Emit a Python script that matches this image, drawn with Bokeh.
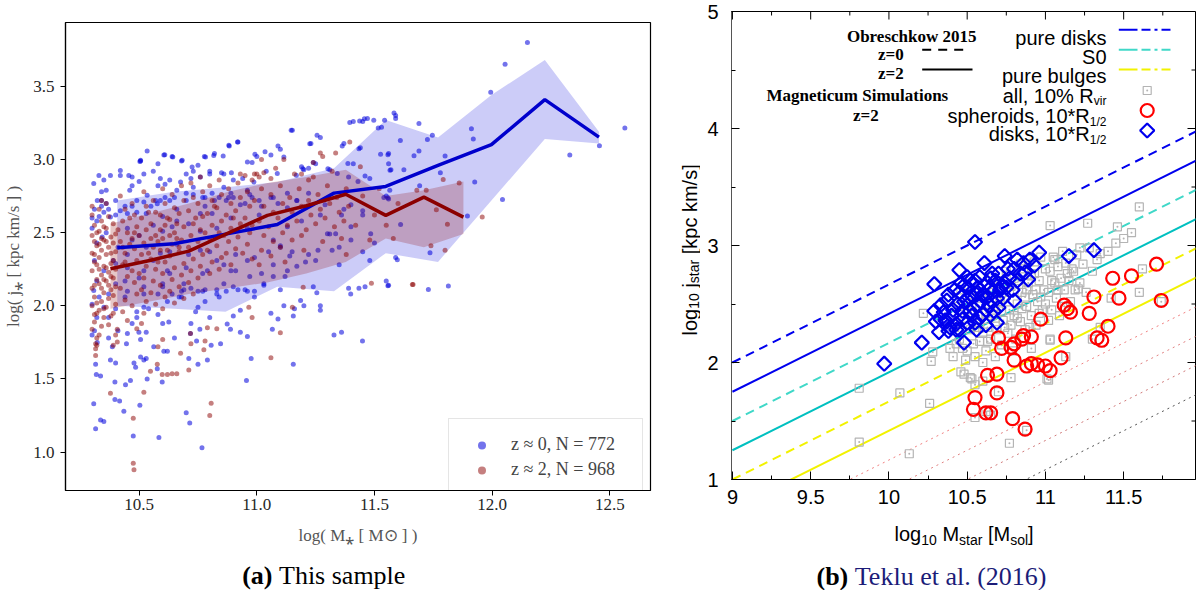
import numpy as np
from bokeh.plotting import figure
from bokeh.models import (Range1d, FixedTicker, Label, Legend, LegendItem, Spacer,
                          CustomJSTickFormatter, PrintfTickFormatter)
from bokeh.layouts import row, column
from bokeh.embed import file_html
from bokeh.resources import INLINE

# ======================= panel (a) data =======================
z0_pts = [
 (10.30,1.80),(10.315,1.60),(10.307,1.33),(10.315,1.16),(10.318,1.53),(10.336,1.52),(10.336,1.22),(10.35,1.21),
 (10.322,1.75),(10.386,1.72),(10.378,1.63),(10.40,1.61),(10.397,1.48),(10.397,1.36),(10.417,1.35),(10.442,1.46),
 (10.435,1.28),(10.463,1.49),(10.475,1.11),(10.478,1.61),(10.485,1.58),(10.503,1.32),(10.52,1.63),(10.53,1.64),
 (10.534,1.50),(10.584,1.10),(10.562,1.72),(10.577,1.57),(10.598,1.48),(10.605,1.69),(10.62,1.69),(10.446,1.74),
 (10.506,1.77),(10.506,1.65),(10.499,1.82),(10.53,1.82),(10.626,1.89),(10.70,1.27),(10.715,1.20),(10.711,1.64),
 (10.718,1.81),(10.744,1.76),(10.758,1.84),(10.767,1.03),(10.75,1.60),(10.79,1.63),(10.806,1.73),(10.846,1.74),
 (10.888,1.84),(10.93,1.82),(10.956,1.49),(10.96,1.79),(10.976,1.64),(11.066,1.84),(11.115,2.00),(11.155,1.60),
 (11.155,1.93),(11.20,2.00),(11.328,1.80),(11.36,1.82),(11.449,1.76),(11.399,2.08),(11.434,2.12),(11.56,2.14),
 (11.27,1.97),(11.255,2.09),
 (12.15,3.80),(12.055,3.65),(11.994,3.46),(11.912,3.21),(11.92,3.14),(11.61,3.13),(11.689,3.245),(11.746,3.165),
 (11.725,3.136),(11.689,3.058),(11.668,3.026),(11.80,3.024),(11.78,2.91),(11.625,2.93),(11.926,2.846),(11.692,2.82),
 (12.044,2.727),(11.895,2.613),(11.736,2.363),(11.729,2.112),(11.814,2.135),(12.33,3.03),(12.456,3.094),(12.564,3.215),
 (11.597,2.315),(11.611,2.556),(11.543,3.268),(11.583,3.318),(11.59,3.28),(11.557,3.033),(11.566,2.926),(11.565,2.79),
 (11.54,2.74),(11.557,2.739),(11.557,2.137),
 (10.534,3.058),(10.503,2.987),(10.609,3.033),(10.643,3.017),(10.683,2.994),(10.725,2.948),(10.777,3.02),(10.817,3.028),
 (10.857,3.024),(10.883,3.092),(10.918,3.119),(10.96,2.983),(10.992,3.036),(11.035,3.052),(11.09,3.092),(11.115,3.017),
 (11.146,3.20),(11.225,3.108),(11.256,3.165),(11.363,3.092),(11.395,3.252),(11.437,3.263),(11.457,3.279),(11.497,3.268),
 (11.516,3.215),(11.434,3.074),(11.526,3.036),(11.56,2.97),(11.46,2.887),(11.43,2.85),(11.387,2.972),(11.41,2.97),
 (11.342,2.904),(11.302,2.937),(11.25,2.97),(11.196,2.937),(11.20,2.93),(11.168,2.892),(11.087,2.904),(11.04,2.92),
 (10.988,2.846),(10.94,2.87),(10.90,2.86),(10.892,2.91),(10.85,2.91),(10.80,2.92),(10.75,2.96),(10.70,2.90),
 (10.72,2.87),(10.676,2.846),(10.63,2.86),(10.61,2.83),(10.58,2.82),(10.59,2.87),(10.56,2.92),(10.50,2.85),
 (10.47,2.82),(10.46,2.79),(10.534,2.755),(10.57,2.72),(10.65,2.74),(10.70,2.72),(10.73,2.76),(10.78,2.74),
 (10.82,2.72),(10.88,2.74),(10.93,2.69),(10.97,2.76),(11.01,2.72),(11.07,2.74),(11.13,2.67),(11.17,2.72),
 (11.22,2.77),(11.29,2.69),(11.36,2.62),(11.40,2.69),(11.45,2.62),(11.484,2.493),(11.50,2.43),(11.335,2.493),
 (11.35,2.40),(11.40,2.54),(11.31,2.49),(11.26,2.38),(11.207,2.30),(11.17,2.27),(11.14,2.34),(11.10,2.40),
 (11.13,2.24),(11.07,2.20),(11.03,2.14),(10.99,2.10),(10.96,2.10),(10.92,2.11),(10.87,2.10),(10.83,2.11),
 (10.77,2.10),(10.72,2.12),(10.68,2.10),(10.64,2.08),
 (10.307,2.835),(10.329,2.89),(10.35,2.86),(10.378,2.89),(10.42,2.925),(10.42,2.89),(10.456,2.89),(10.47,2.88),
 (10.506,2.994),(10.52,2.90),(10.34,2.78),(10.322,2.72),(10.34,2.72),(10.36,2.70),(10.31,2.66),(10.35,2.64),
 (10.378,2.607),(10.30,2.60),(10.32,2.58),(10.30,2.53),(10.343,2.47),(10.32,2.43),(10.37,2.66),(10.40,2.62),
 (10.42,2.65),(10.45,2.63),(10.47,2.68),(10.49,2.64),(10.52,2.71),(10.55,2.68),(10.577,2.698),(10.61,2.74),
 (10.63,2.72),(10.66,2.79),(10.70,2.77),(10.73,2.81),(10.77,2.74),(10.81,2.77),(10.86,2.81),(10.90,2.74),
 (10.96,2.79),(10.45,2.53),(10.50,2.48),(10.56,2.55),(10.60,2.51),(10.66,2.58),(10.76,2.51),(10.83,2.53),
 (10.89,2.60),(10.96,2.53),(11.01,2.62),(10.307,2.105),(10.33,2.06),(10.30,2.01),(10.35,1.99),(10.32,1.92),
 (10.37,1.92),(10.31,1.83),(10.37,1.78),(10.41,1.83),(10.45,1.81),(10.47,1.88),(10.52,1.99),(10.49,1.92),
 (10.58,1.94),(10.60,1.88),(10.65,1.78),(10.72,1.88),(10.75,1.99),(10.80,1.92),(10.874,1.876),(10.93,1.97),
 (10.99,2.06),(10.40,2.15),(10.45,2.10),(10.52,2.08),(10.60,2.13),(10.67,2.06),(10.75,2.10),(10.83,2.08),
 (10.90,2.13),(10.31,2.31),(10.35,2.24),(10.32,2.17),(10.39,2.31),(10.45,2.26),(10.50,2.19),(10.56,2.31),
 (10.63,2.22),(10.70,2.26),(10.79,2.24),(10.86,2.28),(10.96,2.31),(10.71,2.35),(10.80,2.37),(10.91,2.35),
 (10.63,2.37),(10.45,2.35),
 (10.605,3.03),(10.64,3.02),(10.68,2.99),(10.506,2.99),(10.58,2.97),(10.73,2.92),(10.76,2.88),(10.80,2.90),
 (10.86,2.90),(10.881,3.097),(10.92,3.12),(10.782,3.017),(10.82,3.04),(10.98,2.98),(11.00,3.02),(11.06,3.03),
 (11.10,3.07),(11.151,3.20),(11.23,3.11),(11.27,3.15),(11.37,3.11),(11.41,3.26),(11.45,3.26),(11.47,3.28),
 (11.53,3.22),(11.59,3.30),(11.24,2.98),(11.19,2.95),(11.22,2.94),(11.31,2.93),(11.39,2.88),(11.44,3.08),
 (11.48,2.87),(11.56,3.04),(11.57,2.93),(11.55,2.75),(11.56,2.73),(11.37,2.66),(11.45,2.65),(11.27,2.62),
 (11.30,2.493),(11.13,2.54),(11.19,2.58),(11.07,2.45),(11.10,2.41),(11.05,2.37),(10.99,2.33),(11.15,2.37),
 (11.22,2.35),(11.32,2.38),(11.40,2.45),(11.45,2.37),(11.25,2.31),(11.35,2.28),(11.48,2.31),(11.07,2.28),
 (11.12,2.20),(11.02,2.22),(10.97,2.20),(10.91,2.24),(10.86,2.15),(10.95,2.11),(11.03,2.15),(11.10,2.11),
 (11.186,2.037),(11.24,2.13),(11.39,2.12),(11.46,2.13),(11.55,2.17),(11.59,2.33),(11.27,2.00),(11.16,1.98),
 (11.09,1.91),(11.06,1.95),(10.90,1.93),(10.84,2.06),(10.78,2.03),(10.74,1.96),(10.68,2.06),(10.62,2.03),
 (10.58,2.08),(10.54,1.98),(10.49,1.96),(10.44,2.06),(10.40,1.98),(10.69,2.11),(10.60,2.15),(10.52,2.13),
 (10.78,2.11),(10.44,2.68),(10.40,2.72),(10.36,2.79),(10.34,2.68),(10.33,2.61),(10.49,2.72),(10.53,2.63),
 (10.59,2.72),(10.60,2.61),(10.66,2.66),(10.64,2.54),(10.71,2.56),(10.76,2.63),(10.78,2.68),(10.81,2.63),
 (10.84,2.74),(10.87,2.72),(10.89,2.77),(10.95,2.70),(10.98,2.74),(11.02,2.68),(11.06,2.74),(11.09,2.70),
 (11.13,2.77),(11.17,2.72),(10.36,2.50),(10.41,2.40),(10.47,2.45),(10.53,2.40),(10.59,2.36),(10.66,2.42),
 (10.76,2.38),(10.83,2.31),(10.89,2.24),(10.77,2.22),(10.69,2.15),(10.62,2.24),(10.52,2.24),(10.44,2.17),
 (10.40,2.29),(10.37,2.08),
]
z2_pts = [
 (10.315,1.706),(10.315,1.66),(10.315,1.74),(10.378,1.403),(10.39,1.73),(10.407,1.752),(10.40,1.80),(10.407,1.84),
 (10.475,1.232),(10.475,0.924),(10.478,0.88),(10.49,1.843),(10.51,1.88),(10.52,1.41),(10.548,1.553),(10.577,1.60),
 (10.598,1.53),(10.62,1.53),(10.64,1.535),(10.66,1.535),(10.58,1.72),(10.60,1.77),(10.676,1.676),(10.711,1.562),
 (10.718,1.81),(10.72,1.74),(10.775,1.70),(10.78,1.76),(10.80,1.25),(10.806,1.334),(10.79,1.85),(10.83,1.843),
 (10.966,1.99),(10.98,1.92),(11.06,1.645),(11.10,1.816),(11.151,1.99),(11.197,2.127),(11.487,2.155),(11.661,2.146),
 (11.02,3.00),(11.115,3.00),(11.27,3.045),(11.28,3.02),(11.335,3.045),(11.395,3.12),(10.99,2.90),(10.93,2.90),
 (11.03,2.91),(11.01,2.88),(11.06,2.87),(11.00,2.90),(10.95,2.89),(10.98,2.86),(11.19,2.90),(11.22,2.86),(11.24,2.98),
 (11.664,2.145),(11.958,2.607),(11.792,2.864),(11.68,2.79),(11.72,2.79),(11.86,2.84),(11.763,2.657),(11.81,2.557),
 (11.74,2.41),(11.80,2.38),(11.45,2.75),(11.50,2.62),(11.42,2.55),(11.55,2.55),(11.48,2.45),(11.60,2.70),
 (11.38,2.35),(11.58,2.46),(11.52,2.80),(11.44,2.95),
 (10.30,2.62),(10.31,2.55),(10.30,2.48),(10.32,2.41),(10.30,2.36),(10.31,2.30),(10.30,2.24),(10.32,2.18),
 (10.30,2.12),(10.31,2.06),(10.30,2.00),(10.32,1.95),(10.31,1.89),(10.30,1.84),(10.32,1.78),(10.33,2.66),
 (10.34,2.58),(10.33,2.51),(10.35,2.45),(10.34,2.38),(10.33,2.33),(10.35,2.27),(10.34,2.21),(10.33,2.15),
 (10.35,2.09),(10.34,2.03),(10.33,1.97),(10.35,1.92),(10.34,1.86),(10.33,1.80),(10.36,2.70),(10.37,2.61),
 (10.36,2.53),(10.38,2.47),(10.37,2.40),(10.36,2.35),(10.38,2.29),(10.37,2.23),(10.36,2.17),(10.38,2.11),
 (10.37,2.05),(10.36,1.99),(10.38,1.93),(10.37,1.87),(10.39,2.56),(10.40,2.49),(10.39,2.43),(10.40,2.37),
 (10.39,2.31),(10.40,2.25),(10.39,2.19),(10.40,2.13),(10.39,2.07),(10.40,2.01),(10.39,1.95),(10.31,2.44),
 (10.32,2.28),(10.31,2.14),(10.33,2.42),(10.34,2.12),(10.32,2.02),(10.35,2.54),(10.36,2.26),(10.38,2.36),
 (10.35,2.18),(10.31,2.35),(10.30,2.68),(10.32,2.50),(10.34,2.46),(10.36,2.44),(10.38,2.20),(10.33,2.25),
 (10.37,2.14),(10.31,1.94),(10.35,1.98),(10.32,1.73),(10.34,2.72),
 (10.42,2.75),(10.44,2.66),(10.43,2.58),(10.45,2.50),(10.42,2.44),(10.44,2.36),(10.43,2.28),(10.45,2.20),
 (10.42,2.12),(10.44,2.04),(10.43,1.96),(10.45,1.90),(10.47,2.70),(10.48,2.62),(10.49,2.54),(10.47,2.46),
 (10.48,2.39),(10.49,2.31),(10.47,2.24),(10.48,2.16),(10.49,2.08),(10.47,2.00),(10.52,2.78),(10.53,2.68),
 (10.51,2.60),(10.53,2.52),(10.52,2.43),(10.51,2.35),(10.53,2.27),(10.52,2.19),(10.51,2.11),(10.53,2.03),
 (10.52,1.95),(10.56,2.72),(10.57,2.64),(10.55,2.56),(10.57,2.48),(10.56,2.40),(10.55,2.32),(10.57,2.25),
 (10.56,2.17),(10.55,2.09),(10.57,2.01),(10.60,2.80),(10.61,2.70),(10.59,2.62),(10.61,2.55),(10.60,2.46),
 (10.59,2.38),(10.61,2.30),(10.60,2.22),(10.59,2.14),(10.61,2.06),(10.60,1.98),(10.64,2.76),(10.65,2.67),
 (10.63,2.59),(10.65,2.50),(10.64,2.42),(10.63,2.34),(10.65,2.26),(10.64,2.18),(10.63,2.10),(10.65,2.02),
 (10.68,2.82),(10.69,2.72),(10.67,2.63),(10.69,2.54),(10.68,2.45),(10.67,2.37),(10.69,2.29),(10.68,2.21),
 (10.67,2.13),(10.69,2.05),(10.46,2.60),(10.50,2.48),(10.54,2.36),(10.58,2.44),(10.62,2.38),(10.66,2.46),
 (10.44,2.30),(10.50,2.22),(10.58,2.30),(10.62,2.60),(10.46,2.42),(10.54,2.64),(10.66,2.56),(10.41,2.52),
 (10.43,2.40),(10.55,2.46),(10.63,2.48),(10.48,2.50),(10.59,2.52),(10.67,2.40),
 (10.72,2.84),(10.73,2.74),(10.71,2.65),(10.73,2.56),(10.72,2.48),(10.71,2.40),(10.73,2.32),(10.72,2.24),
 (10.71,2.16),(10.73,2.08),(10.76,2.88),(10.77,2.78),(10.75,2.70),(10.77,2.61),(10.76,2.52),(10.75,2.44),
 (10.77,2.35),(10.76,2.27),(10.75,2.19),(10.80,2.82),(10.81,2.72),(10.79,2.63),(10.81,2.55),(10.80,2.46),
 (10.79,2.38),(10.81,2.30),(10.80,2.22),(10.84,2.86),(10.85,2.76),(10.83,2.67),(10.85,2.58),(10.84,2.50),
 (10.83,2.41),(10.85,2.33),(10.84,2.25),(10.88,2.80),(10.89,2.70),(10.87,2.62),(10.89,2.53),(10.88,2.44),
 (10.87,2.36),(10.89,2.28),(10.92,2.84),(10.93,2.74),(10.91,2.65),(10.93,2.56),(10.92,2.47),(10.91,2.39),
 (10.96,2.78),(10.97,2.68),(10.95,2.60),(10.97,2.50),(10.96,2.42),(10.99,2.72),(10.98,2.55),(10.74,2.60),
 (10.82,2.68),(10.86,2.48),(10.78,2.50),(10.90,2.60),(10.94,2.36),(10.98,2.32),
 (11.02,2.80),(11.03,2.68),(11.01,2.58),(11.03,2.48),(11.02,2.38),(11.01,2.28),(11.06,2.76),(11.07,2.64),
 (11.05,2.54),(11.07,2.44),(11.06,2.34),(11.10,2.82),(11.11,2.70),(11.09,2.60),(11.11,2.50),(11.10,2.40),
 (11.14,2.74),(11.15,2.64),(11.13,2.55),(11.15,2.45),(11.18,2.80),(11.19,2.68),(11.17,2.58),(11.19,2.48),
 (11.22,2.72),(11.23,2.62),(11.21,2.52),(11.26,2.76),(11.27,2.66),(11.25,2.56),(11.30,2.82),(11.31,2.70),
 (11.29,2.60),(11.34,2.74),(11.35,2.64),(11.33,2.54),(11.38,2.80),(11.39,2.68),(11.37,2.58),(11.12,2.30),
 (11.20,2.38),(11.28,2.44),(11.36,2.46),(11.16,2.90),(11.24,2.88),(11.32,2.92),(11.08,2.94),
]
z0_x = [p[0] for p in z0_pts]; z0_y = [p[1] for p in z0_pts]
z2_x = [p[0] for p in z2_pts]; z2_y = [p[1] for p in z2_pts]

z0_bin_x = [10.407, 10.647, 10.867, 11.087, 11.328, 11.548, 11.77, 11.997, 12.224, 12.454]
z0_med   = [2.397, 2.424, 2.49, 2.556, 2.77, 2.816, 2.96, 3.101, 3.409, 3.153]
z0_hi    = [2.72, 2.78, 2.81, 2.846, 2.94, 3.27, 3.15, 3.44, 3.68, 3.19]
z0_lo    = [2.00, 1.98, 1.96, 2.13, 2.10, 2.36, 2.30, 2.72, 3.14, 3.11]

z2_bin_x = [10.378, 10.545, 10.711, 10.878, 11.045, 11.21, 11.378, 11.548, 11.71, 11.878]
z2_med   = [2.253, 2.31, 2.374, 2.497, 2.618, 2.684, 2.762, 2.618, 2.743, 2.606]
z2_hi    = [2.56, 2.63, 2.70, 2.78, 2.84, 2.88, 2.93, 2.75, 2.79, 2.85]
z2_lo    = [1.98, 2.03, 2.08, 2.12, 2.16, 2.22, 2.30, 2.46, 2.40, 2.49]

a_xticks = [10.5, 11.0, 11.5, 12.0, 12.5]
a_yticks = [1.0, 1.5, 2.0, 2.5, 3.0, 3.5]
leg_a = ["z \u2248 0, N = 772", "z \u2248 2, N = 968"]

# ======================= panel (b) data =======================
all_pts = [
 (9.81,1.78),(9.81,1.32),(10.07,1.74),(10.13,1.22),(10.26,1.65),(10.27,2.01),(10.22,2.42),(10.39,2.12),
 (10.46,1.92),(10.52,1.87),(10.55,1.53),(10.55,1.81),(10.60,1.84),(10.77,1.31),(10.78,1.87),(10.91,2.12),
 (11.03,2.19),(11.02,1.85),(11.74,2.52),(11.60,3.33),(11.46,3.16),(11.55,3.11),(11.27,3.19),(11.03,3.17),
 (11.35,2.93),(11.22,2.98),(11.62,2.80),(11.17,2.80),(11.21,2.63),(11.03,2.20),(10.28,2.09),(10.53,1.86),
 (10.48,1.90),(11.01,1.86),
 (10.42,2.30),(10.45,2.20),(10.48,2.38),(10.50,2.10),(10.52,2.28),(10.55,2.05),(10.57,2.40),(10.58,2.18),
 (10.60,2.00),(10.44,2.48),(10.47,2.12),(10.53,2.50),(10.56,2.30),(10.59,2.55),(10.41,2.05),(10.50,2.45),
 (10.54,2.16),(10.58,2.34),(10.46,2.62),(10.52,2.58),(10.60,2.26),(10.49,2.02),(10.55,2.62),(10.43,2.16),
 (10.62,2.10),(10.63,2.30),(10.64,2.50),(10.65,2.20),(10.66,2.40),(10.67,2.62),(10.68,2.05),(10.69,2.28),
 (10.70,2.48),(10.71,2.70),(10.72,2.15),(10.73,2.36),(10.74,2.56),(10.75,2.78),(10.76,2.25),(10.77,2.45),
 (10.78,2.65),(10.79,2.10),(10.62,2.42),(10.65,2.60),(10.68,2.38),(10.71,2.52),(10.74,2.30),(10.77,2.60),
 (10.80,2.40),(10.63,2.18),(10.66,2.52),(10.69,2.68),(10.72,2.44),(10.75,2.64),(10.78,2.32),(10.80,2.72),
 (10.81,2.20),(10.82,2.50),(10.83,2.70),(10.84,2.35),(10.85,2.60),(10.86,2.80),(10.87,2.28),(10.88,2.48),
 (10.89,2.68),(10.90,2.88),(10.91,2.40),(10.92,2.58),(10.93,2.76),(10.94,2.32),(10.95,2.52),(10.96,2.70),
 (10.97,2.90),(10.98,2.45),(10.99,2.62),(11.00,2.80),(10.82,2.38),(10.85,2.46),(10.88,2.62),(10.91,2.74),
 (10.94,2.62),(10.97,2.56),(11.00,2.50),(10.84,2.84),(10.87,2.56),(10.90,2.30),(10.93,2.86),(10.96,2.42),
 (11.02,2.60),(11.03,2.78),(11.04,2.45),(11.05,2.90),(11.06,2.68),(11.07,2.55),(11.08,2.82),(11.09,2.40),
 (11.10,2.72),(11.11,2.95),(11.12,2.62),(11.13,2.85),(11.15,2.70),(11.16,2.52),(11.18,2.78),(11.20,2.92),
 (11.22,2.68),(11.24,2.84),(11.26,2.60),(11.28,2.98),(11.04,2.70),(11.08,2.62),(11.14,2.76),(11.19,2.62),
 (11.02,2.36),(11.06,2.88),(11.12,2.48),(11.30,2.78),(11.33,2.88),(11.40,2.95),(11.45,3.02),(11.50,3.06),
 (10.65,1.55),(10.62,1.58),(10.70,1.75),(10.88,1.42),(11.35,2.30),(11.30,2.20),(11.42,2.55),(11.60,2.60),
 (11.13,2.05),
]
sph_pts = [
 (11.71,2.84),(11.55,2.74),(11.43,2.72),(11.47,2.55),(11.74,2.53),(11.31,2.56),(11.28,2.42),(11.12,2.49),
 (11.16,2.43),(10.97,2.37),(11.40,2.31),(11.36,2.19),(11.13,2.21),(11.10,2.04),(11.03,1.93),(11.00,1.97),
 (10.91,2.22),(10.85,2.20),(10.80,2.16),(10.80,2.02),(10.88,1.97),(10.91,1.99),(10.79,1.52),(10.87,1.43),
 (11.14,2.46),(10.70,2.21),(10.78,2.13),(10.72,2.12),(10.63,1.89),(10.69,1.90),(10.69,1.74),(10.55,1.70),
 (10.54,1.60),(10.62,1.57),(10.65,1.57),(11.33,2.21),(10.86,2.23),(10.95,1.98),
]
disk_pts = [
 (9.97,1.99),(10.21,2.17),(10.29,2.67),(10.55,3.03),(10.45,2.79),(10.61,2.85),(10.74,2.91),(10.82,2.88),
 (10.96,2.94),(11.15,2.91),(11.31,2.96),(10.93,2.83),(10.87,2.77),(10.89,2.71),(10.82,2.70),(10.80,2.80),
 (10.72,2.65),(10.69,2.34),(10.48,2.17),(10.32,2.26),(10.29,2.44),(10.33,2.49),(10.37,2.53),(10.37,2.35),
 (10.41,2.45),(10.43,2.33),(10.45,2.60),(10.48,2.52),(10.50,2.64),(10.52,2.44),(10.53,2.57),(10.55,2.70),
 (10.57,2.49),(10.58,2.62),(10.60,2.41),(10.64,2.49),(10.65,2.64),(10.67,2.44),(10.69,2.55),(10.70,2.47),
 (10.66,2.76),(10.58,2.73),(10.50,2.73),(10.46,2.68),(10.38,2.58),(10.33,2.37),(10.30,2.35),(10.38,2.27),
 (10.47,2.37),(10.55,2.34),(10.62,2.45),(10.73,2.55),(10.75,2.64),(10.36,2.36),(10.43,2.28),(10.80,2.53),
 (10.40,2.40),(10.44,2.50),(10.47,2.44),(10.51,2.56),(10.54,2.46),(10.56,2.58),(10.59,2.52),(10.61,2.66),
 (10.63,2.56),(10.66,2.60),(10.68,2.70),(10.71,2.62),(10.74,2.68),(10.77,2.72),(10.79,2.62),(10.84,2.76),
 (10.42,2.62),(10.48,2.66),(10.53,2.40),(10.58,2.38),(10.62,2.32),(10.35,2.43),(10.39,2.30),(10.45,2.28),
 (10.50,2.34),(10.56,2.28),(10.60,2.58),(10.65,2.72),(10.70,2.76),(10.76,2.80),(10.86,2.85),(10.90,2.88),
 (10.52,2.70),(10.47,2.57),(10.57,2.64),
]
all_x = [p[0] for p in all_pts]; all_y = [p[1] for p in all_pts]
sph_x = [p[0] for p in sph_pts]; sph_y = [p[1] for p in sph_pts]
disk_x = [p[0] for p in disk_pts]; disk_y = [p[1] for p in disk_pts]

# Obreschkow & Glazebrook 2015: log j = a + 2/3 (log M - 9)
slope = 2.0 / 3.0
x_eval = [9.0, 12.0]
obr_disk = {"z0": 2.00, "z2": 1.75}
obr_s0 = {"z0": 1.50, "z2": 1.25}
obr_bulge = {"z0": 1.00, "z2": 0.75}
dotted_a = [0.50, 0.25, 0.00, -0.25]
b_xticks = [9.0, 9.5, 10.0, 10.5, 11.0, 11.5]
b_xminor = [9.25, 9.75, 10.25, 10.75, 11.25, 11.75]
b_yticks = [1, 2, 3, 4, 5]
b_yminor = [1.5, 2.5, 3.5, 4.5]

SERIF = "Liberation Serif"
SANS = "Liberation Sans"
ROW_H = 518
CAP_H = 590 - ROW_H

# ======================= panel (a) =======================
pa = figure(width=660, height=ROW_H, x_range=Range1d(10.187, 12.673), y_range=Range1d(0.738, 3.936),
            output_backend="svg", toolbar_location=None,
            min_border_left=65, min_border_right=10, min_border_top=22, min_border_bottom=28)
pa.grid.visible = False
pa.outline_line_color = "black"
pa.outline_line_width = 1.2
for ax in (pa.xaxis, pa.yaxis):
    ax.axis_line_color = "black"
    ax.axis_line_width = 1.2
    ax.major_tick_out = 5
    ax.major_tick_in = 0
    ax.minor_tick_line_color = None
    ax.major_label_text_font = SERIF
    ax.major_label_text_font_size = "17px"
    ax.major_label_text_color = "#262626"
    ax.formatter = PrintfTickFormatter(format="%.1f")
pa.xaxis.major_label_standoff = 3
pa.yaxis.major_label_standoff = 6
pa.xaxis.ticker = FixedTicker(ticks=a_xticks)
pa.yaxis.ticker = FixedTicker(ticks=a_yticks)
pa.yaxis.axis_label = "log( j\u204e [ kpc km/s ] )"
pa.yaxis.axis_label_text_font = SERIF
pa.yaxis.axis_label_text_font_size = "17px"
pa.yaxis.axis_label_text_font_style = "normal"
pa.yaxis.axis_label_text_color = "#555555"
pa.yaxis.axis_label_standoff = 7

pa.varea(x=z0_bin_x, y1=z0_lo, y2=z0_hi, fill_color="#0000dd", fill_alpha=0.2)
rb = pa.scatter(z0_x, z0_y, size=5, fill_color="#0000dd", fill_alpha=0.55, line_color=None)
rr = pa.scatter(z2_x, z2_y, size=5, fill_color="#8b0000", fill_alpha=0.5, line_color=None)
pa.varea(x=z2_bin_x, y1=z2_lo, y2=z2_hi, fill_color="#8b0000", fill_alpha=0.22)
pa.line(z0_bin_x, z0_med, line_color="#0000cc", line_width=3.5)
pa.line(z2_bin_x, z2_med, line_color="#8b0000", line_width=3.5)

leg = Legend(items=[LegendItem(label=leg_a[0], renderers=[rb]), LegendItem(label=leg_a[1], renderers=[rr])],
             location=(383, -6), border_line_color="#cccccc", border_line_width=1.3,
             label_text_font=SERIF, label_text_font_size="18px", glyph_width=35, glyph_height=20,
             label_standoff=12, padding=15, spacing=4, label_height=20, label_width=116, margin=0)
pa.add_layout(leg)

# ======================= panel (b) =======================
pb = figure(width=496, height=ROW_H, x_range=Range1d(8.994, 11.959), y_range=Range1d(1, 5),
            output_backend="svg", toolbar_location=None,
            min_border_left=31, min_border_right=1, min_border_top=11, min_border_bottom=39)
pb.extra_x_ranges = {"px": Range1d(731, 1195)}
pb.extra_y_ranges = {"py": Range1d(479, 11)}
pb.grid.visible = False
pb.outline_line_color = "black"
pb.outline_line_width = 1

pb.xaxis.ticker = FixedTicker(ticks=b_xticks, minor_ticks=b_xminor)
pb.yaxis.ticker = FixedTicker(ticks=b_yticks, minor_ticks=b_yminor)
pb.xaxis.formatter = CustomJSTickFormatter(code="return String(Math.round(tick*100)/100);")
for ax in (pb.xaxis, pb.yaxis):
    ax.major_tick_in = 8
    ax.major_tick_out = 0
    ax.minor_tick_in = 4
    ax.minor_tick_out = 0
    ax.major_label_text_font = SANS
    ax.major_label_text_font_size = "20px"
    ax.major_label_text_color = "black"
pb.xaxis.major_label_standoff = 10
pb.yaxis.major_label_standoff = 13
pb.yaxis.axis_line_color = "#555555"
pb.xaxis.axis_line_color = "black"

# mirror ticks on top and right edges (positions from the tick arrays)
pb.segment(x0=b_xticks, x1=b_xticks, y0=[11] * len(b_xticks), y1=[19] * len(b_xticks),
           y_range_name="py", line_color="black", line_width=1)
pb.segment(x0=b_xminor, x1=b_xminor, y0=[11] * len(b_xminor), y1=[15] * len(b_xminor),
           y_range_name="py", line_color="black", line_width=1)
pb.segment(x0=[1195] * len(b_yticks), x1=[1187] * len(b_yticks), y0=b_yticks, y1=b_yticks,
           x_range_name="px", line_color="black", line_width=1)
pb.segment(x0=[1195] * len(b_yminor), x1=[1191] * len(b_yminor), y0=b_yminor, y1=b_yminor,
           x_range_name="px", line_color="black", line_width=1)

def rel(a):
    return [a + slope * (x - 9.0) for x in x_eval]

for a, col in zip(dotted_a, ["#f08080", "#e08080", "#d07a7a", "#555555"]):
    pb.line(x_eval, rel(a), line_color=col, line_width=1, line_dash="2 4")
pb.line(x_eval, rel(obr_bulge["z0"]), line_color="#f2f200", line_width=2, line_dash="9 6")
pb.line(x_eval, rel(obr_bulge["z2"]), line_color="#f2f200", line_width=2)
pb.line(x_eval, rel(obr_s0["z0"]), line_color="#40d8c8", line_width=2, line_dash="9 6")
pb.line(x_eval, rel(obr_s0["z2"]), line_color="#00c0c0", line_width=2)
pb.line(x_eval, rel(obr_disk["z0"]), line_color="#0000ee", line_width=2, line_dash="9 6")
pb.line(x_eval, rel(obr_disk["z2"]), line_color="#0000ee", line_width=2)

pb.scatter(all_x, all_y, marker="square_dot", size=8, line_color="#b4b4b4", fill_color=None, line_width=1.2)
pb.scatter(sph_x, sph_y, marker="circle", size=13, line_color="#ff0000", fill_color=None, line_width=2.2)
pb.scatter(disk_x, disk_y, marker="square", angle=np.pi / 4, size=10, line_color="#0000ee",
           fill_color=None, line_width=2.2)

R = dict(x_range_name="px", y_range_name="py")
def lab(fig, x, y, text, font=SANS, size="20px", align="left", style="normal", color="black", angle=0, rn=True):
    kw = R if rn else {}
    fig.add_layout(Label(x=x, y=y, text=text, text_font=font, text_font_size=size, text_align=align,
                         text_font_style=style, text_color=color, text_baseline="alphabetic",
                         angle=angle, **kw))

lab(pb, 976, 36, "Obreschkow 2015", font=SERIF, size="17px", align="right", style="bold")
lab(pb, 903.3, 54, "z=0", font=SERIF, size="17px", align="right", style="bold")
lab(pb, 903.3, 73.3, "z=2", font=SERIF, size="17px", align="right", style="bold")
lab(pb, 947.7, 95, "Magneticum Simulations", font=SERIF, size="17px", align="right", style="bold")
lab(pb, 878.3, 115, "z=2", font=SERIF, size="17px", align="right", style="bold")
pb.segment(x0=[921.7], y0=[49.3], x1=[964], y1=[49.3], line_color="black", line_width=2, line_dash="9 7", **R)
pb.segment(x0=[921.7], y0=[69], x1=[972], y1=[69], line_color="black", line_width=2, **R)

lab(pb, 1106, 37, "pure disks", align="right")
lab(pb, 1106, 56.3, "S0", align="right")
lab(pb, 1106, 75, "pure bulges", align="right")
lab(pb, 1093.3, 95, "all, 10% R", align="right")
lab(pb, 1093.3, 100, "vir", size="12px")
lab(pb, 1089.3, 115, "spheroids, 10*R", align="right")
lab(pb, 1089.3, 121, "1/2", size="12px")
lab(pb, 1089.3, 133.5, "disks, 10*R", align="right")
lab(pb, 1089.3, 139.5, "1/2", size="12px")
for yy, col in ((29.3, "#0000ee"), (49.3, "#40d8c8"), (69, "#f2f200")):
    pb.segment(x0=[1118.3], y0=[yy], x1=[1137], y1=[yy], line_color=col, line_width=2, **R)
    pb.segment(x0=[1141], y0=[yy], x1=[1170], y1=[yy], line_color=col, line_width=2, line_dash="9 4 3 4", **R)
pb.scatter(x=[1146.7], y=[90], marker="square_dot", size=8, line_color="#b4b4b4", fill_color=None, line_width=1.2, **R)
pb.scatter(x=[1146.7], y=[110], marker="circle", size=13, line_color="#ff0000", fill_color=None, line_width=2.2, **R)
pb.scatter(x=[1146.7], y=[130], marker="square", angle=np.pi / 4, size=10, line_color="#0000ee",
           fill_color=None, line_width=2.2, **R)

# ---------- helper strips (text outside the plot frames) ----------
def strip(w, h, x0, x1, y0, y1, **borders):
    f = figure(width=w, height=h, x_range=Range1d(x0, x1), y_range=Range1d(y0, y1),
               x_axis_type=None, y_axis_type=None, output_backend="svg", toolbar_location=None,
               min_border=0, **borders)
    f.grid.visible = False
    f.outline_line_color = None
    return f

ylab = strip(40, ROW_H, 660, 700, 479, 11, min_border_top=11, min_border_bottom=39)
A = np.pi / 2
lab(ylab, 689, 335, "log", angle=A, rn=False)
lab(ylab, 693, 308.3, "10", size="14px", angle=A, rn=False)
lab(ylab, 689, 287.1, "j", angle=A, rn=False)
lab(ylab, 693, 282.7, "star", size="14px", angle=A, rn=False)
lab(ylab, 689, 253.8, "[kpc km/s]", angle=A, rn=False)

capA = strip(660, CAP_H, 65, 650, 590, ROW_H, min_border_left=65, min_border_right=10)
lab(capA, 357.5, 535, "log( M\u204e [ M\u2299 ] )", font=SERIF, size="17px", align="center", color="#555555", rn=False)
lab(capA, 241.7, 575, "(a)", font=SERIF, size="26px", style="bold", rn=False)
lab(capA, 278.5, 575, "This sample", font=SERIF, size="26px", rn=False)

capB = strip(496, CAP_H, 731, 1195, 590, ROW_H, min_border_left=31, min_border_right=1)
lab(capB, 894, 533, "log", rn=False)
lab(capB, 920.7, 539, "10", size="14px", rn=False)
lab(capB, 941.9, 533, "M", rn=False)
lab(capB, 958.6, 539, "star", size="14px", rn=False)
lab(capB, 987.5, 533, "[M", rn=False)
lab(capB, 1009.7, 539, "sol", size="14px", rn=False)
lab(capB, 1027.6, 533, "]", rn=False)
lab(capB, 816, 575.5, "(b)", font=SERIF, size="26px", style="bold", rn=False)
lab(capB, 854.3, 575.5, "Teklu et al. (2016)", font=SERIF, size="26px", color="#1c1c78", rn=False)

layout = row(column(pa, capA), column(ylab, Spacer(width=40, height=CAP_H)), column(pb, capB))
open("out.html", "w").write(file_html(layout, INLINE))
